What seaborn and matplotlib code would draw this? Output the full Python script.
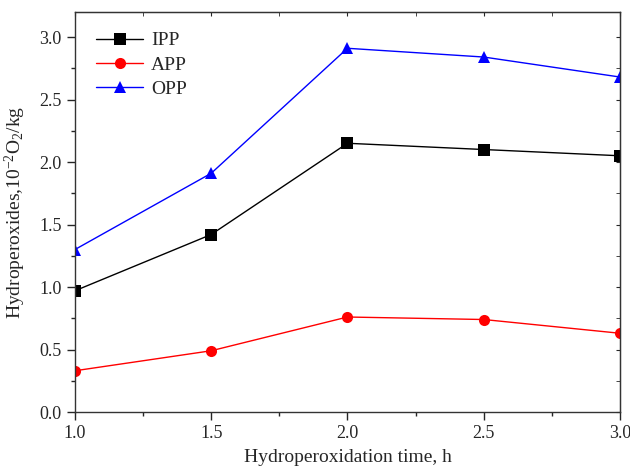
import numpy as np
import pandas as pd
import matplotlib
matplotlib.use("Agg")
import matplotlib.pyplot as plt
from matplotlib.ticker import MultipleLocator, FormatStrFormatter
import seaborn as sns

# hydroperoxidation time, h
times = [1.0, 1.5, 2.0, 2.5, 3.0]
# hydroperoxide content, 10^-2 O2/kg
ipp = [0.97, 1.42, 2.15, 2.10, 2.05]
app = [0.33, 0.49, 0.76, 0.74, 0.63]
opp = [1.30, 1.91, 2.91, 2.84, 2.68]

series_names = ['IPP', 'APP', 'OPP']
series_colors = ['black', 'red', 'blue']
series_markers = ['s', 'o', '^']

df = pd.DataFrame({
    'time': times * 3,
    'value': ipp + app + opp,
    'sample': ['IPP'] * 5 + ['APP'] * 5 + ['OPP'] * 5,
})

sns.set_style('ticks')
plt.rcParams['font.family'] = ['Liberation Serif', 'DejaVu Serif']
plt.rcParams['mathtext.fontset'] = 'custom'
plt.rcParams['mathtext.rm'] = 'Liberation Serif'
plt.rcParams['mathtext.it'] = 'Liberation Serif:italic'

fig = plt.figure(figsize=(6.3, 4.7), dpi=100)
ax = fig.add_axes([0.119, 0.1234, 0.865, 0.851])

sns.lineplot(data=df, x='time', y='value', hue='sample', style='sample',
             hue_order=series_names, style_order=series_names,
             palette=series_colors, markers=series_markers, dashes=False,
             markersize=8, markeredgewidth=0, linewidth=1, ax=ax)

ax.set_xlim(1.0, 3.0)
ax.set_ylim(0.0, 3.2)
ax.xaxis.set_major_locator(MultipleLocator(0.5))
ax.xaxis.set_minor_locator(MultipleLocator(0.25))
ax.yaxis.set_major_locator(MultipleLocator(0.5))
ax.yaxis.set_minor_locator(MultipleLocator(0.25))
ax.xaxis.set_major_formatter(FormatStrFormatter('%.1f'))
ax.yaxis.set_major_formatter(FormatStrFormatter('%.1f'))

ax.tick_params(which='major', direction='out', length=6, width=1, labelsize=13,
               top=False, right=False)
ax.tick_params(which='minor', direction='out', length=3, width=1,
               top=False, right=False)
for spine in ax.spines.values():
    spine.set_visible(True)
    spine.set_linewidth(1)
    spine.set_color('#333333')

# inward ticks on top and right
ax_top = ax.secondary_xaxis('top')
ax_top.xaxis.set_major_locator(MultipleLocator(0.5))
ax_top.xaxis.set_minor_locator(MultipleLocator(0.25))
ax_top.tick_params(which='both', direction='in', length=3, labeltop=False)
ax_right = ax.secondary_yaxis('right')
ax_right.yaxis.set_major_locator(MultipleLocator(0.5))
ax_right.yaxis.set_minor_locator(MultipleLocator(0.25))
ax_right.tick_params(which='both', direction='in', length=3, labelright=False)

ax.set_xlabel('Hydroperoxidation time, h', fontsize=14, labelpad=5)
ax.set_ylabel('Hydroperoxides,10$^{-2}$O$_2$/kg', fontsize=14, labelpad=8)

ax.legend(title=None, frameon=False, loc='upper left', fontsize=14,
          handlelength=2.4, handletextpad=0.4, labelspacing=0.35,
          borderaxespad=0.0, bbox_to_anchor=(0.025, 0.97))

fig.savefig('out.png', dpi=100)
